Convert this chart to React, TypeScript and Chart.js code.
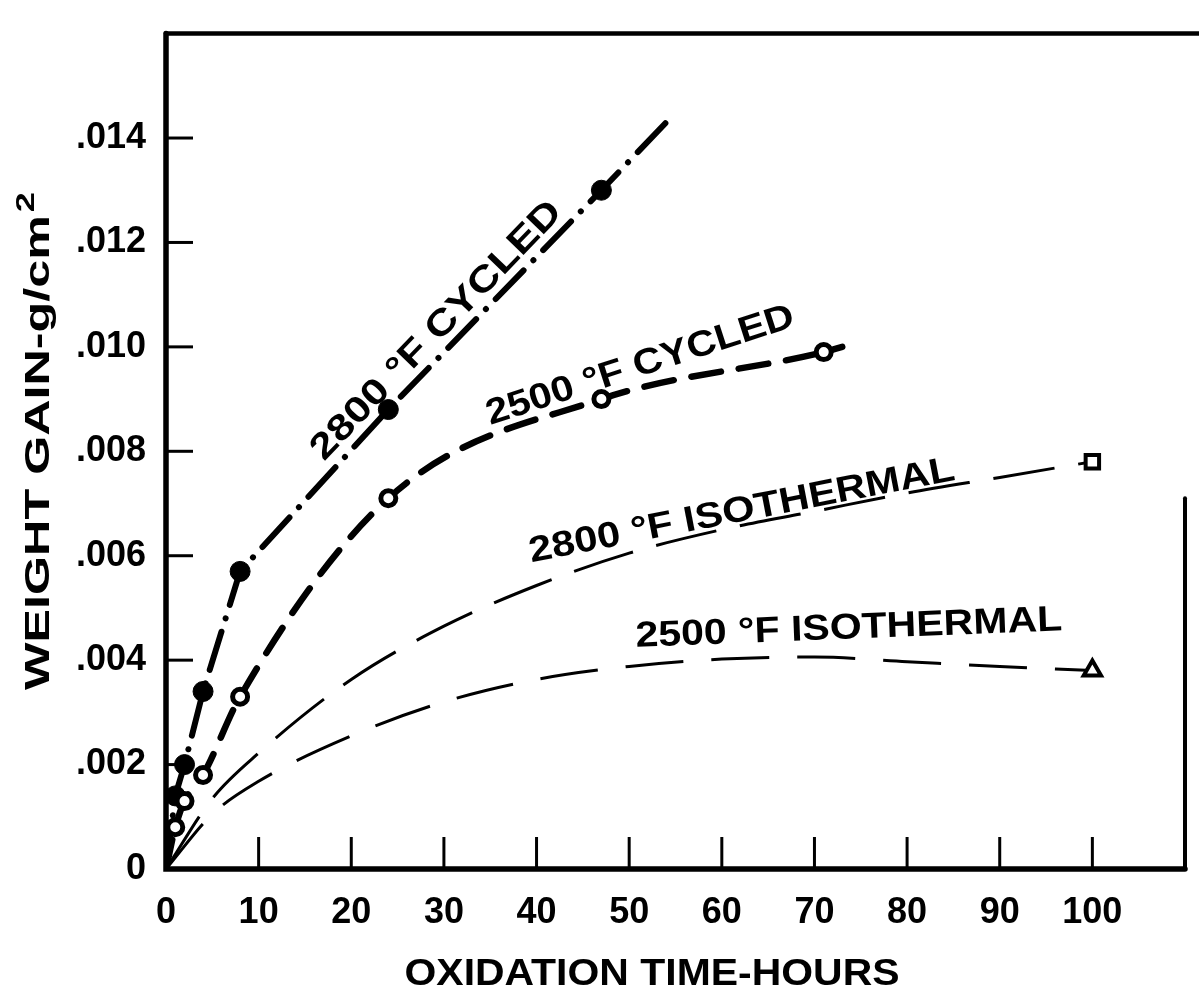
import React, { useEffect, useRef } from "react";
import { Chart, registerables } from "chart.js";

Chart.register(...registerables);

// ---------- tick values and labels ----------
const hoursTicks = [0, 10, 20, 30, 40, 50, 60, 70, 80, 90, 100];
const hoursTickLabels = ["0", "10", "20", "30", "40", "50", "60", "70", "80", "90", "100"];
const gainTicks = [0, 0.002, 0.004, 0.006, 0.008, 0.01, 0.012, 0.014];
const gainTickLabels = ["0", ".002", ".004", ".006", ".008", ".010", ".012", ".014"];

// ---------- series ----------
// 2800 °F cycled (filled circles, dash-dot)
const cycled2800Hours = [0, 1, 2, 4, 8, 24, 47, 54];
const cycled2800Gain = [0, 0.0014, 0.002, 0.0034, 0.0057, 0.0088, 0.013, 0.0143];
const cycled2800Measured = [false, true, true, true, true, true, true, false];

// 2500 °F cycled (open circles, heavy dash)
const cycled2500Hours = [0, 1, 2, 4, 8, 24, 47, 71, 73];
const cycled2500Gain = [0, 0.0008, 0.0013, 0.0018, 0.0033, 0.0071, 0.009, 0.0099, 0.01];
const cycled2500Measured = [false, true, true, true, true, true, true, true, false];

// 2800 °F isothermal (thin long dash, square at end)
const iso2800Hours = [0, 5, 10, 20, 30, 40, 50, 60, 70, 80, 90, 100];
const iso2800Gain = [0, 0.00135, 0.00222, 0.00363, 0.00465, 0.00543, 0.00605, 0.0065, 0.00685, 0.0072, 0.0075, 0.0078];
const iso2800Measured = [false, false, false, false, false, false, false, false, false, false, false, true];

// 2500 °F isothermal (thin long dash, triangle at end)
const iso2500Hours = [0, 5, 10, 20, 30, 40, 50, 60, 70, 80, 90, 100];
const iso2500Gain = [0, 0.00105, 0.00168, 0.00255, 0.0032, 0.00363, 0.00388, 0.00402, 0.00406, 0.00397, 0.00388, 0.0038];
const iso2500Measured = [false, false, false, false, false, false, false, false, false, false, false, true];

// ---------- text ----------
const curveLabels = ["2800 °F CYCLED", "2500 °F CYCLED", "2800 °F ISOTHERMAL", "2500 °F ISOTHERMAL"];
const xAxisTitle = "OXIDATION TIME-HOURS";
const yAxisTitle = "WEIGHT GAIN-g/cm";
const yAxisTitleSup = "2";

// label placement (data-space centre, rotation in degrees, fitted width in px)
const curveLabelPlacement = [
  { x: 29.0, y: 0.01035, angle: -46, width: 345 },
  { x: 51.1, y: 0.00969, angle: -18, width: 322 },
  { x: 62.1, y: 0.00691, angle: -11, width: 433 },
  { x: 73.7, y: 0.00466, angle: -2.2, width: 427 },
];

const FONT_FAMILY = '"Liberation Sans", Arial, sans-serif';

const toPoints = (xs: number[], ys: number[]) => xs.map((x, i) => ({ x, y: ys[i] }));

function drawFitted(
  ctx: CanvasRenderingContext2D,
  text: string,
  cx: number,
  cy: number,
  angleDeg: number,
  width: number,
  size: number
) {
  ctx.save();
  ctx.font = `bold ${size}px ${FONT_FAMILY}`;
  const w = ctx.measureText(text).width;
  ctx.translate(cx, cy);
  ctx.rotate((angleDeg * Math.PI) / 180);
  ctx.scale(width / w, 1);
  ctx.textAlign = "center";
  ctx.textBaseline = "alphabetic";
  ctx.fillStyle = "#000";
  ctx.fillText(text, 0, size * 0.358);
  ctx.restore();
}

const decorPlugin = {
  id: "decor",
  beforeDraw(chart: any) {
    const ctx = chart.ctx as CanvasRenderingContext2D;
    ctx.save();
    ctx.fillStyle = "#fff";
    ctx.fillRect(0, 0, chart.width, chart.height);
    ctx.restore();
  },
  afterDraw(chart: any) {
    const ctx = chart.ctx as CanvasRenderingContext2D;
    const { left, right, top, bottom } = chart.chartArea;
    const xs = chart.scales.x;
    const ys = chart.scales.y;
    ctx.save();
    ctx.strokeStyle = "#000";
    ctx.lineCap = "round";
    // frame
    ctx.lineWidth = 5.5;
    ctx.beginPath();
    ctx.moveTo(left, top);
    ctx.lineTo(left, bottom);
    ctx.lineTo(right, bottom);
    ctx.stroke();
    ctx.lineWidth = 4.5;
    ctx.beginPath();
    ctx.moveTo(left, top);
    ctx.lineTo(chart.width, top);
    ctx.stroke();
    ctx.lineWidth = 4;
    ctx.beginPath();
    ctx.moveTo(right, ys.getPixelForValue(0.0071));
    ctx.lineTo(right, bottom);
    ctx.stroke();
    // inward tick marks
    ctx.lineWidth = 3;
    ctx.lineCap = "butt";
    for (const t of xs.ticks) {
      if (t.value === 0) continue;
      const px = xs.getPixelForValue(t.value);
      ctx.beginPath();
      ctx.moveTo(px, bottom);
      ctx.lineTo(px, bottom - 32);
      ctx.stroke();
    }
    for (const t of ys.ticks) {
      if (t.value === 0) continue;
      const py = ys.getPixelForValue(t.value);
      ctx.beginPath();
      ctx.moveTo(left, py);
      ctx.lineTo(left + 27, py);
      ctx.stroke();
    }
    ctx.restore();

    // curve labels
    curveLabels.forEach((txt, i) => {
      const p = curveLabelPlacement[i];
      drawFitted(ctx, txt, xs.getPixelForValue(p.x), ys.getPixelForValue(p.y), p.angle, p.width, 36);
    });

    // x axis title
    drawFitted(ctx, xAxisTitle, 652, 972, 0, 495, 36);

    // y axis title with superscript
    ctx.save();
    const size = 35;
    ctx.font = `bold ${size}px ${FONT_FAMILY}`;
    const mw = ctx.measureText(yAxisTitle).width;
    ctx.font = `bold ${size * 0.72}px ${FONT_FAMILY}`;
    const sw = ctx.measureText(yAxisTitleSup).width;
    const total = mw + sw + 2;
    const target = 498;
    ctx.translate(49, 441);
    ctx.rotate(-Math.PI / 2);
    ctx.scale(target / total, 1);
    ctx.fillStyle = "#000";
    ctx.textAlign = "left";
    ctx.textBaseline = "alphabetic";
    ctx.font = `bold ${size}px ${FONT_FAMILY}`;
    ctx.fillText(yAxisTitle, -total / 2, 0);
    ctx.font = `bold ${size * 0.72}px ${FONT_FAMILY}`;
    ctx.fillText(yAxisTitleSup, -total / 2 + mw + 2, -size * 0.42);
    ctx.restore();
  },
};

export default function App() {
  const canvasRef = useRef<HTMLCanvasElement | null>(null);

  useEffect(() => {
    const canvas = canvasRef.current;
    if (!canvas) return;

    const chart = new Chart(canvas, {
      type: "line",
      data: {
        datasets: [
          {
            label: curveLabels[2],
            data: toPoints(iso2800Hours, iso2800Gain),
            borderColor: "#000",
            borderWidth: 3,
            borderDash: [62, 24],
            cubicInterpolationMode: "monotone",
            pointStyle: "rect",
            pointRadius: (c: any) => (iso2800Measured[c.dataIndex] ? 9.5 : 0),
            pointBackgroundColor: "#fff",
            pointBorderColor: "#000",
            pointBorderWidth: 4,
            fill: false,
          },
          {
            label: curveLabels[3],
            data: toPoints(iso2500Hours, iso2500Gain),
            borderColor: "#000",
            borderWidth: 3,
            borderDash: [58, 28],
            cubicInterpolationMode: "monotone",
            pointStyle: "triangle",
            pointRadius: (c: any) => (iso2500Measured[c.dataIndex] ? 10 : 0),
            pointBackgroundColor: "#fff",
            pointBorderColor: "#000",
            pointBorderWidth: 4,
            fill: false,
          },
          {
            label: curveLabels[1],
            data: toPoints(cycled2500Hours, cycled2500Gain),
            borderColor: "#000",
            borderWidth: 6.5,
            borderDash: [30, 18],
            borderCapStyle: "round",
            cubicInterpolationMode: "monotone",
            pointStyle: "circle",
            pointRadius: (c: any) => (cycled2500Measured[c.dataIndex] ? 7.5 : 0),
            pointBackgroundColor: "#fff",
            pointBorderColor: "#000",
            pointBorderWidth: 5,
            fill: false,
          },
          {
            label: curveLabels[0],
            data: toPoints(cycled2800Hours, cycled2800Gain),
            borderColor: "#000",
            borderWidth: 6,
            borderDash: [40, 14, 0.1, 14],
            borderCapStyle: "round",
            tension: 0,
            pointStyle: "circle",
            pointRadius: (c: any) => (cycled2800Measured[c.dataIndex] ? 10 : 0),
            pointBackgroundColor: "#000",
            pointBorderColor: "#000",
            pointBorderWidth: 1,
            fill: false,
          },
        ],
      },
      options: {
        responsive: false,
        devicePixelRatio: 1,
        animation: false,
        events: [],
        layout: { padding: { top: 14, right: 4, left: 0, bottom: 0 } },
        plugins: {
          legend: { display: false },
          tooltip: { enabled: false },
          title: { display: false },
        },
        scales: {
          x: {
            type: "linear",
            min: 0,
            max: 110,
            grid: { display: false },
            border: { display: false },
            afterBuildTicks: (scale: any) => {
              scale.ticks = hoursTicks.map((v) => ({ value: v }));
            },
            afterFit: (scale: any) => {
              scale.height = 138;
            },
            ticks: {
              autoSkip: false,
              maxRotation: 0,
              padding: 14,
              color: "#000",
              font: { family: FONT_FAMILY, size: 36, weight: "bold" },
              callback: (_v: any, i: number) => hoursTickLabels[i],
            },
          },
          y: {
            type: "linear",
            min: 0,
            max: 0.016,
            grid: { display: false },
            border: { display: false },
            afterBuildTicks: (scale: any) => {
              scale.ticks = gainTicks.map((v) => ({ value: v }));
            },
            afterFit: (scale: any) => {
              scale.width = 166;
            },
            ticks: {
              autoSkip: false,
              padding: 12,
              color: "#000",
              font: { family: FONT_FAMILY, size: 36, weight: "bold" },
              callback: (_v: any, i: number) => gainTickLabels[i],
            },
          },
        },
      },
      plugins: [decorPlugin],
    } as any);

    return () => chart.destroy();
  }, []);

  return (
    <div style={{ position: "absolute", left: 0, top: 0, width: 1199, height: 1007, background: "#fff" }}>
      <canvas ref={canvasRef} width={1199} height={1007} style={{ display: "block", width: 1199, height: 1007 }} />
    </div>
  );
}
